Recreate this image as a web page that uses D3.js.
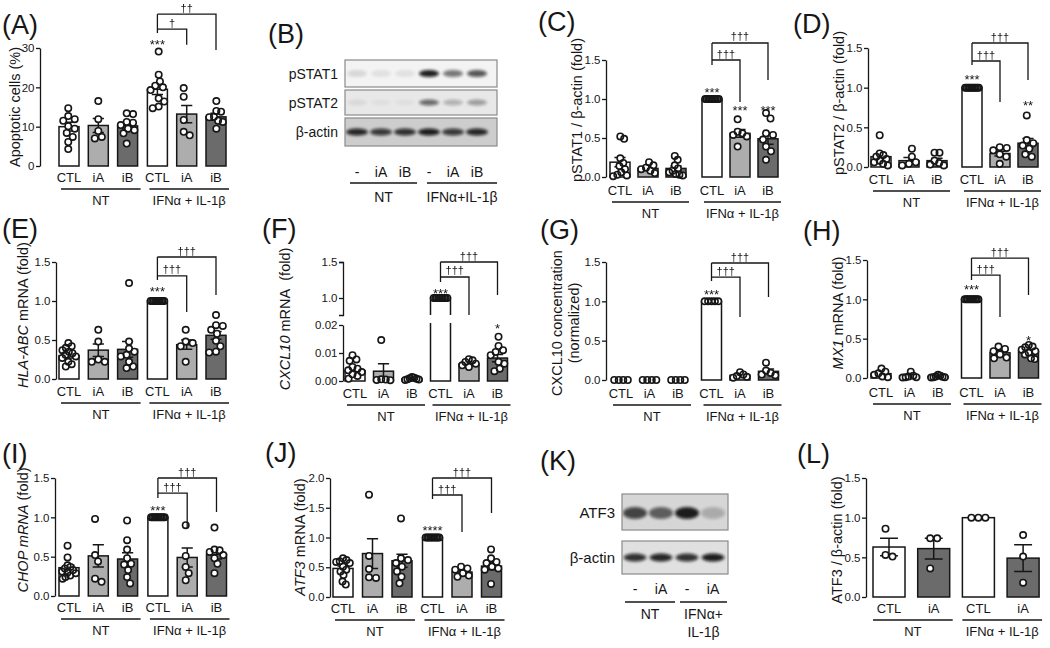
<!DOCTYPE html>
<html><head><meta charset="utf-8">
<script src="https://cdn.jsdelivr.net/npm/d3@7"></script>
<style>
body{margin:0;background:#fff}
svg{display:block}
text{font-family:"Liberation Sans",Arial,Helvetica,sans-serif;fill:#161616}
</style>
</head><body>
<svg id="fig" width="1050" height="648"></svg>
<script>
// ---------------- DATA ----------------
const categories = ["CTL","iA","iB","CTL","iA","iB"];
const categoriesL = ["CTL","iA","CTL","iA"];
const groupLabels = ["NT","IFNα + IL-1β"];

// (A) Apoptotic cells (%)
const ptsA = [[14.7,12.7,11.9,11.5,10.1,9.5,8.4,7.4,6.1,4.3],[16.5,11.9,8.9,7.4,7.0],[13.4,13.2,11.2,11.0,10.4,9.5,9.1,8.3,5.7],[29.1,23.2,21.5,20.4,20.0,19.3,17.2,16.4,14.7,15.1],[19.8,17.6,11.7,8.7,7.8],[16.5,14.0,13.8,12.5,12.4,11.5,11.2,9.5]];
const meanA = [10.0,10.3,10.2,19.5,13.2,12.5];
const semA = [1.1,1.8,0.8,1.3,2.2,0.9];

// (C) pSTAT1 / beta-actin
const ptsC = [[0.52,0.49,0.24,0.18,0.14,0.1,0.06,0.03,0.01,0.02],[0.19,0.15,0.12,0.1,0.08,0.05],[0.27,0.22,0.15,0.11,0.08,0.06,0.04,0.03,0.02],[1,1,1,1,1,1,1,1,1,1],[0.74,0.58,0.56,0.54,0.52,0.39],[0.82,0.75,0.56,0.54,0.48,0.39,0.33,0.22]];
const meanC = [0.19,0.11,0.11,1.0,0.56,0.49];
const semC = [0.06,0.02,0.03,0,0.05,0.07];

// (D) pSTAT2 / beta-actin
const ptsD = [[0.4,0.17,0.15,0.13,0.1,0.08,0.06,0.04,0.02],[0.23,0.13,0.06,0.04,0.02],[0.18,0.18,0.08,0.05,0.03,0.02],[1,1,1,1,1,1,1,1,1,1],[0.25,0.24,0.21,0.16,0.13,0.04],[0.65,0.34,0.3,0.27,0.23,0.16,0.13]];
const meanD = [0.13,0.08,0.08,1.0,0.17,0.3];
const semD = [0.04,0.04,0.03,0,0.03,0.06];

// (E) HLA-ABC mRNA
const ptsE = [[0.46,0.42,0.4,0.37,0.35,0.33,0.31,0.29,0.27,0.22,0.19,0.16],[0.63,0.48,0.25,0.22,0.22],[1.23,0.48,0.39,0.35,0.31,0.29,0.22,0.16,0.14],[1,1,1,1,1,1,1,1,1,1],[0.63,0.48,0.46,0.42,0.22],[0.82,0.69,0.68,0.63,0.58,0.49,0.42,0.35,0.34]];
const meanE = [0.3,0.37,0.38,1.0,0.44,0.56];
const semE = [0.03,0.08,0.1,0,0.06,0.05];

// (F) CXCL10 mRNA (broken axis)
const ptsF = [[0.0092,0.0077,0.0072,0.005,0.0044,0.0038,0.0032,0.0024,0.0018,0.0008],[0.0146,0.0006,0.0005,0.0004,0.0003],[0.0014,0.0012,0.001,0.0008,0.0006,0.0005,0.0004],[1,1,1,1,1,1,1,1,1,1],[0.0078,0.0074,0.0068,0.0062,0.0056,0.005],[0.0158,0.0125,0.011,0.0104,0.0092,0.0068,0.0062,0.0044,0.0035]];
const meanF = [0.0037,0.0035,0.0008,1.0,0.006,0.0082];
const semF = [0.0008,0.0027,0.0001,0,0.0005,0.0013];

// (G) CXCL10 concentration (normalized)
const ptsG = [[0,0,0,0],[0,0,0,0],[0,0,0,0],[1,1,1,1,1],[0.1,0.07,0.05,0.04,0.03],[0.22,0.12,0.09,0.07,0.06]];
const meanG = [0,0,0,1.0,0.06,0.11];
const semG = [0,0,0,0,0.015,0.03];

// (H) MX1 mRNA
const ptsH = [[0.12,0.08,0.06,0.04,0.02,0.01],[0.08,0.03,0.02,0.01,0.01,0.005],[0.04,0.03,0.02,0.015,0.01,0.008,0.005],[1,1,1,1,1,1,1,1,1,1],[0.4,0.37,0.34,0.3,0.26,0.25],[0.42,0.4,0.39,0.36,0.34,0.32,0.3,0.25,0.24]];
const meanH = [0.055,0.025,0.02,1.0,0.32,0.34];
const semH = [0.017,0.011,0.005,0,0.025,0.02];

// (I) CHOP mRNA
const ptsI = [[0.64,0.49,0.39,0.37,0.35,0.33,0.31,0.3,0.29,0.26,0.24,0.22],[0.98,0.52,0.44,0.22,0.18],[0.96,0.71,0.59,0.48,0.41,0.4,0.33,0.24,0.16],[1,1,1,1,1,1,1,1,1,1],[0.9,0.51,0.37,0.29,0.2],[0.87,0.59,0.58,0.56,0.52,0.48,0.41,0.29]];
const meanI = [0.36,0.51,0.47,1.0,0.49,0.53];
const semI = [0.03,0.14,0.08,0,0.12,0.06];

// (J) ATF3 mRNA
const ptsJ = [[0.65,0.62,0.6,0.59,0.57,0.51,0.46,0.43,0.37,0.26,0.21],[1.72,0.69,0.47,0.33,0.32],[1.32,0.65,0.62,0.57,0.51,0.43,0.34,0.23],[1,1,1,1,1,1,1,1,1,1],[0.51,0.48,0.46,0.4,0.36,0.34],[0.8,0.65,0.59,0.57,0.51,0.48,0.46,0.22]];
const meanJ = [0.48,0.73,0.61,1.0,0.42,0.52];
const semJ = [0.04,0.25,0.11,0,0.03,0.06];

// (L) ATF3 / beta-actin
const ptsL = [[0.86,0.53,0.51],[0.74,0.74,0.36],[1,1,1],[0.78,0.51,0.18]];
const meanL = [0.63,0.61,1.0,0.49];
const semL = [0.11,0.13,0,0.17];

// Western blots (relative band intensity 0..1)
const lanesB = ["-","iA","iB","-","iA","iB"];
const blotB_pSTAT1 = [0.12,0.08,0.08,0.95,0.55,0.7];
const blotB_pSTAT2 = [0.07,0.04,0.04,0.6,0.25,0.35];
const blotB_actin = [0.9,0.8,0.85,0.95,0.8,0.9];
const lanesK = ["-","iA","-","iA"];
const blotK_ATF3 = [0.75,0.62,0.95,0.22];
const blotK_actin = [0.85,0.9,0.85,0.95];

// ---------------- STYLE / LAYOUT ----------------
const INK = "#161616";
const WHITE = "#ffffff", LIGHT = "#adadad", DARK = "#6b6b6b";
const fills6 = [WHITE,LIGHT,DARK,WHITE,LIGHT,DARK];
const fills4 = [WHITE,DARK,WHITE,DARK];
const PT_R = 3.2;

const svg = d3.select("#fig");
const defs = svg.append("defs");
defs.append("filter").attr("id","blur").attr("x","-50%").attr("y","-100%").attr("width","200%").attr("height","300%")
  .append("feGaussianBlur").attr("stdDeviation",1.7);
defs.append("filter").attr("id","gray").attr("x","-20%").attr("y","-20%").attr("width","140%").attr("height","140%")
  .append("feColorMatrix").attr("type","saturate").attr("values",0);

function styleAxis(sel){
  sel.attr("font-family",null);
  sel.select(".domain").attr("stroke",INK).attr("stroke-width",1.3);
  sel.selectAll(".tick line").attr("stroke",INK).attr("stroke-width",1.3);
  sel.selectAll(".tick text").attr("font-size",11.5).attr("fill",INK);
}

function swarm(vals, yf, half){
  const order = vals.map((v,i)=>i).sort((a,b)=>vals[b]-vals[a]);
  const placed = [], res = new Array(vals.length);
  const minD = 2*PT_R + 0.4;
  order.forEach(i=>{
    const yy = yf(vals[i]);
    let dx = 0;
    for (let k=0;k<400;k++){
      const c = k===0 ? 0 : (k%2 ? 1 : -1)*Math.ceil(k/2)*0.5;
      if (placed.every(p=>Math.hypot(p.x-c,p.y-yy) >= minD)){ dx = c; break; }
    }
    placed.push({x:dx,y:yy}); res[i] = {x:dx,y:yy};
  });
  const lo = d3.min(res,d=>d.x), hi = d3.max(res,d=>d.x);
  const mid = (lo+hi)/2, span = (hi-lo)/2;
  res.forEach(d=>{ d.x -= mid; });
  if (span > half) res.forEach(d=>{ d.x *= half/span; });
  return res;
}

const panels = [
 {ox:0,oy:0,axisX:40,y0:166,yTop:48,max:30,ticks:[0,10,20,30],fmt:"d",x0:69,step:29.3,gap:0.5,
  pts:ptsA,mean:meanA,sem:semA,cats:categories,fills:fills6,catDy:15.5,
  ylab:[[{t:"Apoptotic cells (%)"}]],ylx:[15],yly:107,
  stars:[{i:3,v:31.6,t:"***"}],
  br:{left:3,leftEnd:33.8,items:[{to:5,v:38.6,end:29.5,t:"††"},{to:4,v:34.8,end:30.8,t:"†"}]}},
 {ox:520,oy:0,axisX:86,y0:177,yTop:60,max:1.5,ticks:[0,0.5,1,1.5],fmt:".1f",x0:100,step:28,gap:8,
  pts:ptsC,mean:meanC,sem:semC,cats:categories,fills:fills6,catDy:17.5,
  ylab:[[{t:"pSTAT1 / β-actin (fold)"}]],ylx:[57],yly:110,
  stars:[{i:3,v:1.128,t:"***"},{i:4,v:0.885,t:"***"},{i:5,v:0.885,t:"***"}],
  br:{left:3,leftEnd:1.436,items:[{to:5,v:1.718,end:1.244,t:"†††"},{to:4,v:1.5,end:0.962,t:"†††"}]}},
 {ox:780,oy:0,axisX:88,y0:167,yTop:48,max:1.5,ticks:[0,0.5,1,1.5],fmt:".1f",x0:101,step:28,gap:7,
  pts:ptsD,mean:meanD,sem:semD,cats:categories,fills:fills6,catDy:16.5,
  ylab:[[{t:"pSTAT2 / β-actin (fold)"}]],ylx:[59],yly:103,
  stars:[{i:3,v:1.147,t:"***"},{i:5,v:0.807,t:"**"}],
  br:{left:3,leftEnd:1.286,items:[{to:5,v:1.563,end:1.097,t:"†††"},{to:4,v:1.336,end:0.819,t:"†††"}]}},
 {ox:0,oy:215,axisX:56,y0:164,yTop:47,max:1.5,ticks:[0,0.5,1,1.5],fmt:".1f",x0:69,step:29.3,gap:0.5,
  pts:ptsE,mean:meanE,sem:semE,cats:categories,fills:fills6,catDy:16.5,
  ylab:[[{t:"HLA-ABC",it:true},{t:" mRNA (fold)"}]],ylx:[23],yly:100,
  stars:[{i:3,v:1.154,t:"***"}],
  br:{left:3,leftEnd:1.269,items:[{to:5,v:1.564,end:1.077,t:"†††"},{to:4,v:1.321,end:0.859,t:"†††"}]}},
 {ox:260,oy:215,axisX:83,y0:166,fmt:".2f",x0:95,step:28.5,gap:0,
  broken:{lowMax:0.02,lowTop:110,lowTicks:[0,0.01,0.02],upMin:0.764,upMax:1.5,upBottom:100,upTop:47,upTicks:[1.0,1.5]},
  pts:ptsF,mean:meanF,sem:semF,cats:categories,fills:fills6,catDy:16.5,
  ylab:[[{t:"CXCL10",it:true},{t:" mRNA\u00A0 (fold)"}]],ylx:[25],yly:104,
  stars:[{i:3,v:1.111,t:"***"},{i:5,v:0.02,t:"*"}],
  br:{left:3,leftEnd:1.222,items:[{to:5,v:1.5,end:1.042,t:"†††"},{to:4,v:1.292,end:0.764,t:"†††"}]}},
 {ox:520,oy:215,axisX:86,y0:165,yTop:47,max:1.5,ticks:[0,0.5,1,1.5],fmt:".1f",x0:101,step:28.5,gap:5,
  pts:ptsG,mean:meanG,sem:semG,cats:categories,fills:fills6,catDy:17.5,
  ylab:[[{t:"CXCL10 concentration"}],[{t:"(normalized)"}]],ylx:[37,54],yly:108,
  stars:[{i:3,v:1.131,t:"***"}],
  br:{left:3,leftEnd:1.258,items:[{to:5,v:1.487,end:1.055,t:"†††"},{to:4,v:1.309,end:0.801,t:"†††"}]}},
 {ox:780,oy:215,axisX:87,y0:163,yTop:45,max:1.5,ticks:[0,0.5,1,1.5],fmt:".1f",x0:101,step:28.5,gap:5,
  pts:ptsH,mean:meanH,sem:semH,cats:categories,fills:fills6,catDy:18.5,
  ylab:[[{t:"MX1",it:true},{t:" mRNA (fold)"}]],ylx:[58],yly:98,
  stars:[{i:3,v:1.157,t:"***"},{i:5,v:0.521,t:"*"}],
  br:{left:3,leftEnd:1.246,items:[{to:5,v:1.525,end:1.055,t:"†††"},{to:4,v:1.309,end:0.775,t:"†††"}]}},
 {ox:0,oy:430,axisX:55,y0:166,yTop:48,max:1.5,ticks:[0,0.5,1,1.5],fmt:".1f",x0:69,step:29.3,gap:1,
  pts:ptsI,mean:meanI,sem:semI,cats:categories,fills:fills6,catDy:15.5,
  ylab:[[{t:"CHOP mRNA",it:true},{t:" (fold)"}]],ylx:[23],yly:100,
  stars:[{i:3,v:1.131,t:"***"}],
  br:{left:3,leftEnd:1.246,items:[{to:5,v:1.5,end:1.068,t:"†††"},{to:4,v:1.309,end:0.864,t:"†††"}]}},
 {ox:260,oy:430,axisX:70,y0:167,yTop:48,max:2.0,ticks:[0,0.5,1,1.5,2],fmt:".1f",x0:83,step:29.5,gap:1,
  pts:ptsJ,mean:meanJ,sem:semJ,cats:categories,fills:fills6,catDy:15.5,
  ylab:[[{t:"ATF3",it:true},{t:" mRNA (fold)"}]],ylx:[40],yly:107,
  stars:[{i:3,v:1.16,t:"****"}],
  br:{left:3,leftEnd:1.647,items:[{to:5,v:2.0,end:1.412,t:"†††"},{to:4,v:1.714,end:1.092,t:"†††"}]}},
 {ox:780,oy:430,axisX:86,y0:167,yTop:48,max:1.5,ticks:[0,0.5,1,1.5],fmt:".1f",x0:109,step:44.7,gap:0,barW:32,
  pts:ptsL,mean:meanL,sem:semL,cats:categoriesL,fills:fills4,catDy:15.5,lineExt:[16,19],
  ylab:[[{t:"ATF3 / β-actin (fold)"}]],ylx:[57],yly:110,stars:[],br:null}
];

function barPanel(p){
  const g = svg.append("g").attr("transform",`translate(${p.ox},${p.oy})`);
  let yf;
  if (p.broken){
    const b = p.broken;
    const lowY = d3.scaleLinear().domain([0,b.lowMax]).range([p.y0,b.lowTop]);
    const upY = d3.scaleLinear().domain([b.upMin,b.upMax]).range([b.upBottom,b.upTop]);
    yf = v => v <= b.lowMax ? lowY(v) : upY(v);
    g.append("g").attr("transform",`translate(${p.axisX},0)`)
      .call(d3.axisLeft(lowY).tickValues(b.lowTicks).tickFormat(d3.format(".2f")).tickSize(4).tickSizeOuter(0).tickPadding(1.5)).call(styleAxis);
    g.append("g").attr("transform",`translate(${p.axisX},0)`)
      .call(d3.axisLeft(upY).tickValues(b.upTicks).tickFormat(d3.format(".1f")).tickSize(4).tickSizeOuter(4).tickPadding(1.5)).call(styleAxis);
  } else {
    const y = d3.scaleLinear().domain([0,p.max]).range([p.y0,p.yTop]);
    yf = y;
    g.append("g").attr("transform",`translate(${p.axisX},0)`)
      .call(d3.axisLeft(y).tickValues(p.ticks).tickFormat(d3.format(p.fmt)).tickSize(4).tickSizeOuter(0).tickPadding(1.5)).call(styleAxis);
  }
  const n = p.mean.length;
  const xs = d3.scaleLinear().domain([0,1]).range([p.x0,p.x0+p.step]);
  const xc = i => xs(i) + (i >= n/2 ? p.gap : 0);
  const bw = p.barW || 20;

  // bars
  p.mean.forEach((m,i)=>{
    const xl = xc(i)-bw/2, xr = xc(i)+bw/2;
    if (p.broken && m > p.broken.lowMax){
      const lt = yf(p.broken.lowMax)-2, ub = p.broken.upBottom;
      g.append("rect").attr("x",xl).attr("y",lt).attr("width",bw).attr("height",yf(0)-lt).attr("fill",p.fills[i]);
      g.append("rect").attr("x",xl).attr("y",yf(m)).attr("width",bw).attr("height",ub-yf(m)).attr("fill",p.fills[i]);
      g.append("path").attr("d",`M${xl},${lt}V${yf(0)}H${xr}V${lt}`).attr("fill","none").attr("stroke",INK).attr("stroke-width",1.5);
      g.append("path").attr("d",`M${xl},${ub}V${yf(m)}H${xr}V${ub}`).attr("fill","none").attr("stroke",INK).attr("stroke-width",1.5);
    } else {
      g.append("rect").attr("x",xl).attr("y",yf(m)).attr("width",bw).attr("height",Math.max(0,yf(0)-yf(m)))
        .attr("fill",p.fills[i]).attr("stroke",INK).attr("stroke-width",1.5);
    }
  });

  // error bars
  const cap = bw*0.28;
  p.mean.forEach((m,i)=>{
    const s = p.sem[i]; if (!s) return;
    const x = xc(i), t = yf(m+s), b = yf(Math.max(0,m-s));
    g.append("path").attr("d",`M${x},${b}V${t}M${x-cap},${t}H${x+cap}M${x-cap},${b}H${x+cap}`)
      .attr("fill","none").attr("stroke",INK).attr("stroke-width",1.5);
  });

  // points: fills first, then rings, so overlapping points merge like the original
  p.pts.forEach((vals,i)=>{
    const pos = swarm(vals, yf, bw/2 - PT_R);
    const pg = g.append("g");
    pg.selectAll("circle.f").data(pos).join("circle").attr("class","f")
      .attr("cx",d=>xc(i)+d.x).attr("cy",d=>d.y).attr("r",PT_R).attr("fill","#fff");
    pg.selectAll("circle.s").data(pos).join("circle").attr("class","s")
      .attr("cx",d=>xc(i)+d.x).attr("cy",d=>d.y).attr("r",PT_R)
      .attr("fill","none").attr("stroke",INK).attr("stroke-width",1.6);
  });

  // category labels
  g.selectAll("text.cat").data(p.cats).join("text").attr("class","cat")
    .attr("x",(d,i)=>xc(i)).attr("y",p.y0+p.catDy).attr("text-anchor","middle").attr("font-size",13).text(d=>d);
  // group lines / labels
  const ext = p.lineExt || [8,13];
  const h = n/2;
  [[0,h-1],[h,n-1]].forEach((r,gi)=>{
    const a = xc(r[0])-ext[0], b = xc(r[1])+ext[1], ly = p.y0+p.catDy+7.5;
    g.append("line").attr("x1",a).attr("x2",b).attr("y1",ly).attr("y2",ly).attr("stroke",INK).attr("stroke-width",1.5);
    g.append("text").attr("x",(a+b)/2).attr("y",p.y0+p.catDy+23.5).attr("text-anchor","middle").attr("font-size",13).text(groupLabels[gi]);
  });

  // y label
  p.ylab.forEach((line,li)=>{
    const t = g.append("text").attr("transform",`translate(${p.ylx[li]},${p.yly}) rotate(-90)`)
      .attr("text-anchor","middle").attr("dominant-baseline","central").attr("font-size",14.5);
    line.forEach(seg=>t.append("tspan").attr("font-style",seg.it?"italic":null).text(seg.t));
  });

  // stars
  p.stars.forEach(s=>{
    g.append("text").attr("x",xc(s.i)).attr("y",yf(s.v)+7.5).attr("text-anchor","middle").attr("font-size",13)
      .attr("filter","url(#gray)").text(s.t);
  });

  // brackets
  if (p.br){
    const L = xc(p.br.left);
    const top = d3.max(p.br.items,d=>d.v);
    g.append("line").attr("x1",L).attr("x2",L).attr("y1",yf(top)).attr("y2",yf(p.br.leftEnd)).attr("stroke",INK).attr("stroke-width",1.3);
    p.br.items.forEach(b=>{
      const R = xc(b.to), yy = yf(b.v);
      g.append("path").attr("d",`M${L},${yy}H${R}V${yf(b.end)}`).attr("fill","none").attr("stroke",INK).attr("stroke-width",1.3);
      g.append("text").attr("x",(L+R)/2).attr("y",yy-2.5).attr("text-anchor","middle").attr("font-size",11)
        .attr("filter","url(#gray)").text(b.t);
    });
  }
}
panels.forEach(barPanel);

// ---------------- BLOTS ----------------
function blot(b){
  const g = svg.append("g");
  const lx = d3.scaleLinear().domain([0,1]).range([b.lane0,b.lane0+b.laneStep]);
  const op = d3.scaleLinear().domain([0,1]).range([0,0.97]);
  b.rows.forEach((r,ri)=>{
    const cid = `clip${b.id}${ri}`;
    defs.append("clipPath").attr("id",cid).append("rect").attr("x",b.x).attr("y",r.y).attr("width",b.w).attr("height",r.h);
    g.append("rect").attr("x",b.x).attr("y",r.y).attr("width",b.w).attr("height",r.h).attr("fill",r.bg);
    g.append("g").attr("clip-path",`url(#${cid})`).selectAll("ellipse").data(r.vals).join("ellipse")
      .attr("cx",(d,i)=>lx(i)).attr("cy",r.y+r.h/2+(r.dy||0)).attr("rx",r.rx).attr("ry",r.ry)
      .attr("fill","#0a0a0a").attr("opacity",d=>op(d)).attr("filter","url(#blur)");
    g.append("rect").attr("x",b.x).attr("y",r.y).attr("width",b.w).attr("height",r.h).attr("fill","none").attr("stroke","#8a8a8a").attr("stroke-width",1.2);
    g.append("text").attr("x",b.x-7).attr("y",r.y+r.h/2).attr("dominant-baseline","central").attr("text-anchor","end").attr("font-size",b.fs).text(r.label);
  });
  g.selectAll("text.lane").data(b.lanes).join("text").attr("class","lane")
    .attr("x",(d,i)=>lx(i)).attr("y",b.laneY).attr("text-anchor","middle").attr("font-size",14).text(d=>d);
  b.groups.forEach(gr=>{
    g.append("line").attr("x1",gr.x1).attr("x2",gr.x2).attr("y1",b.lineY).attr("y2",b.lineY).attr("stroke",INK).attr("stroke-width",1.6);
    gr.text.forEach((t,ti)=>g.append("text").attr("x",(gr.x1+gr.x2)/2).attr("y",b.grpY+ti*18).attr("text-anchor","middle").attr("font-size",14).text(t));
  });
}
blot({id:"B",x:345,w:152,lane0:357,laneStep:24,fs:14,lanes:lanesB,laneY:177,lineY:183,grpY:202,
  rows:[{label:"pSTAT1",y:60,h:27,bg:"#f3f3f3",vals:blotB_pSTAT1,rx:10,ry:3.6},
        {label:"pSTAT2",y:90,h:25,bg:"#e8e8e8",vals:blotB_pSTAT2,rx:10,ry:3},
        {label:"β-actin",y:118,h:28,bg:"#cdcdcd",vals:blotB_actin,rx:11,ry:3.6}],
  groups:[{x1:350,x2:417,text:["NT"]},{x1:427,x2:497,text:["IFNα+IL-1β"]}]});
blot({id:"K",x:622,w:106,lane0:635,laneStep:26,fs:15,lanes:lanesK,laneY:594,lineY:602,grpY:619,
  rows:[{label:"ATF3",y:494,h:36,bg:"#d6d6d6",vals:blotK_ATF3,rx:12,ry:6,dy:1},
        {label:"β-actin",y:541,h:33,bg:"#e0e0e0",vals:blotK_actin,rx:11.5,ry:4}],
  groups:[{x1:625,x2:675,text:["NT"]},{x1:680,x2:727,text:["IFNα+","IL-1β"]}]});

// ---------------- PANEL LETTERS ----------------
const letters = [["(A)",2,34],["(B)",268,43],["(C)",538,31],["(D)",793,33],["(E)",2,238],["(F)",262,238],
  ["(G)",540,239],["(H)",803,240],["(I)",2,463],["(J)",265,462],["(K)",540,470],["(L)",797,463]];
svg.selectAll("text.letter").data(letters).join("text").attr("class","letter")
  .attr("x",d=>d[1]).attr("y",d=>d[2]).attr("font-size",27).text(d=>d[0]);
</script>
</body></html>
